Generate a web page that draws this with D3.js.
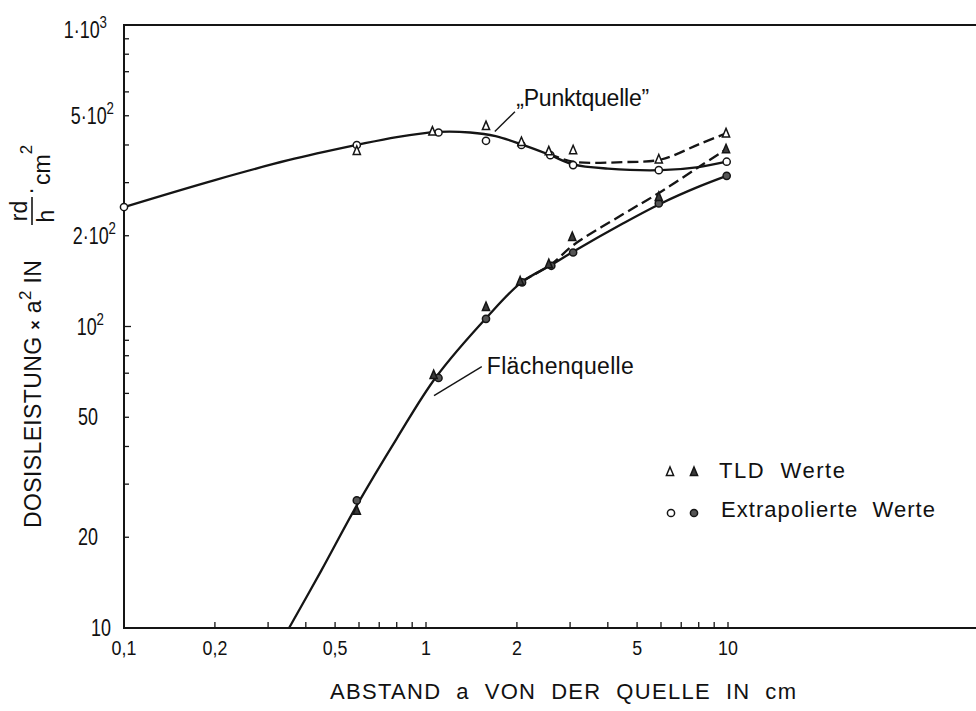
<!DOCTYPE html>
<html><head><meta charset="utf-8">
<script src="https://cdn.jsdelivr.net/npm/d3@7"></script>
<style>
body{margin:0;background:#fff}
svg{display:block}
text{font-family:"Liberation Sans",Arial,sans-serif;fill:#111}
</style>
</head><body>
<svg id="chart" width="976" height="711"></svg>
<script>
// ---------------- DATA ----------------
const xTickValues = [0.1, 0.2, 0.5, 1, 2, 5, 10];
const xTickLabels = ["0,1", "0,2", "0,5", "1", "2", "5", "10"];
const xMinorTicks = [0.2, 0.3, 0.4, 0.5, 0.6, 0.7, 0.8, 0.9, 1, 2, 3, 4, 5, 6, 7, 8, 9, 10];
const yTickValues = [10, 20, 50, 100, 200, 500, 1000];
const yTickLabels = ["10", "20", "50", "10^2", "2·10^2", "5·10^2", "1·10^3"];
const yMinorTicks = [20, 30, 40, 50, 60, 70, 80, 90, 100, 200, 300, 400, 500, 600, 700, 800, 900];

// "Punktquelle" measured points [a in cm, value]
const punktTLD   = [[0.59, 382], [1.05, 443], [1.58, 462], [2.07, 409], [2.55, 381], [3.07, 384], [5.9, 358], [9.85, 437]];
const punktExtra = [[0.1, 249], [0.59, 400], [1.1, 440], [1.58, 413], [2.07, 400], [2.58, 370], [3.07, 343], [5.9, 330], [9.9, 352]];
// "Flaechenquelle" measured points
const flaecheTLD   = [[0.59, 24.5], [1.06, 69], [1.58, 116], [2.05, 141], [2.55, 161], [3.05, 198], [5.9, 269], [9.85, 387]];
const flaecheExtra = [[0.59, 26.5], [1.1, 67.5], [1.58, 106], [2.08, 140], [2.6, 159], [3.07, 176], [5.9, 256], [9.9, 316]];

// fitted curves
const punktSolid  = [[0.1, 249], [0.2, 306], [0.35, 356], [0.59, 400], [0.8, 425], [1.1, 442], [1.4, 440], [1.7, 428], [2.07, 402], [2.55, 372], [3.07, 345], [4, 334], [6, 330], [8, 338], [9.9, 352]];
const punktDashed = [[2.55, 375], [3.07, 352], [4.5, 351], [6, 358], [8, 402], [9.85, 437]];
const flaecheSolid  = [[0.352, 10], [0.45, 15.5], [0.59, 25.5], [0.8, 42.5], [1.08, 68], [1.6, 108], [2.07, 140], [2.6, 160], [3.07, 177], [4.5, 220], [6, 256], [8, 291], [9.9, 316]];
const flaecheDashed = [[2.07, 141], [2.6, 161], [3.07, 186], [4.5, 236], [6, 280], [8, 338], [9.85, 387]];

const legendLabels = ["TLD  Werte", "Extrapolierte  Werte"];
const xTitle = "ABSTAND  a  VON  DER  QUELLE  IN  cm";

// ---------------- LAYOUT ----------------
const svg = d3.select("#chart");
const pLeft = 124, pRight = 976, pTop = 25, pBottom = 628;
const decadePx = 302;
const xMax = Math.pow(10, (pRight - pLeft) / decadePx - 1);
const x = d3.scaleLog().domain([0.1, xMax]).range([pLeft, pRight]);
const y = d3.scaleLog().domain([10, 1000]).range([pBottom, pTop]);
const ink = "#151515";

// axes lines
svg.append("line").attr("x1", pLeft).attr("x2", pRight).attr("y1", pTop).attr("y2", pTop)
  .attr("stroke", ink).attr("stroke-width", 2);
svg.append("line").attr("x1", pLeft).attr("x2", pRight).attr("y1", pBottom).attr("y2", pBottom)
  .attr("stroke", ink).attr("stroke-width", 2);
svg.append("line").attr("x1", pLeft).attr("x2", pLeft).attr("y1", pTop - 1).attr("y2", pBottom + 1)
  .attr("stroke", ink).attr("stroke-width", 2);

// ticks (inward)
svg.append("g").selectAll("line").data(xMinorTicks).join("line")
  .attr("x1", d => x(d)).attr("x2", d => x(d)).attr("y1", pBottom).attr("y2", pBottom - 6)
  .attr("stroke", ink).attr("stroke-width", 1.3);
svg.append("g").selectAll("line").data(yMinorTicks).join("line")
  .attr("y1", d => y(d)).attr("y2", d => y(d)).attr("x1", pLeft).attr("x2", d => pLeft + (d === 100 ? 7 : 5))
  .attr("stroke", ink).attr("stroke-width", 1.3);

function writeSup(sel, label, supSize, dy) {
  const parts = label.split("^");
  sel.append("tspan").text(parts[0]);
  if (parts[1]) sel.append("tspan").attr("dy", dy).attr("font-size", supSize).text(parts[1]);
}

// x tick labels
xTickValues.forEach((v, i) => {
  svg.append("g").attr("transform", `translate(${x(v)},${655}) scale(0.85,1)`)
    .append("text").attr("text-anchor", "middle").attr("font-size", 21).text(xTickLabels[i]);
});
// y tick labels
const yLabelRight = {10: 111, 20: 98, 50: 98, 100: 104, 200: 116, 500: 114, 1000: 107};
yTickValues.forEach((v, i) => {
  const g = svg.append("g").attr("transform", `translate(${yLabelRight[v]},${y(v) + (v === 1000 ? 13 : 8)}) scale(0.78,1)`);
  const t = g.append("text").attr("text-anchor", "end").attr("font-size", 23);
  writeSup(t, yTickLabels[i], 17, -10);
});

// curves
const line = d3.line().x(d => x(d[0])).y(d => y(d[1])).curve(d3.curveCatmullRom.alpha(0.5));
[[punktSolid, null], [punktDashed, "11,5"], [flaecheSolid, null], [flaecheDashed, "11,5"]].forEach(([data, dash]) => {
  svg.append("path").attr("d", line(data)).attr("fill", "none").attr("stroke", ink)
    .attr("stroke-width", 2.3).attr("stroke-dasharray", dash);
});

// markers
function tri(g, cx, cy, filled) {
  g.append("path").attr("d", `M${cx},${cy - 5}L${cx + 3.6},${cy + 3.5}L${cx - 3.6},${cy + 3.5}Z`)
    .attr("fill", filled ? "#3a3a3a" : "#fff").attr("stroke", ink).attr("stroke-width", 1.5);
}
function circ(g, cx, cy, filled) {
  g.append("circle").attr("cx", cx).attr("cy", cy).attr("r", 3.6)
    .attr("fill", filled ? "#555" : "#fff").attr("stroke", ink).attr("stroke-width", 1.5);
}
const mk = svg.append("g");
flaecheExtra.forEach(d => circ(mk, x(d[0]), y(d[1]), true));
flaecheTLD.forEach(d => tri(mk, x(d[0]), y(d[1]), true));
punktExtra.forEach(d => circ(mk, x(d[0]), y(d[1]), false));
punktTLD.forEach(d => tri(mk, x(d[0]), y(d[1]), false));

// annotations
svg.append("line").attr("x1", x(1.69)).attr("y1", y(443)).attr("x2", x(1.97)).attr("y2", y(516))
  .attr("stroke", ink).attr("stroke-width", 1.4);
svg.append("text").attr("x", x(1.99)).attr("y", y(539)).attr("font-size", 23)
  .attr("textLength", 133).attr("lengthAdjust", "spacing")
  .text("\u201EPunktquelle\u201D");
svg.append("line").attr("x1", x(1.53)).attr("y1", y(73.6)).attr("x2", x(1.063)).attr("y2", y(59))
  .attr("stroke", ink).attr("stroke-width", 1.4);
svg.append("text").attr("x", x(1.59)).attr("y", y(69.6)).attr("font-size", 23)
  .attr("textLength", 147).attr("lengthAdjust", "spacing")
  .text("Flächenquelle");

// legend
const lg = svg.append("g");
tri(lg, 670, 472, false); tri(lg, 694, 472, true);
circ(lg, 671, 513, false); circ(lg, 694, 513, true);
lg.append("text").attr("x", 719).attr("y", 478).attr("font-size", 22).style("white-space", "pre")
  .attr("textLength", 126).attr("lengthAdjust", "spacing").text(legendLabels[0]);
lg.append("text").attr("x", 721).attr("y", 517).attr("font-size", 22).style("white-space", "pre")
  .attr("textLength", 214).attr("lengthAdjust", "spacing").text(legendLabels[1]);

// x title
svg.append("text").attr("x", 330).attr("y", 699).attr("font-size", 22).style("white-space", "pre")
  .attr("textLength", 466).attr("lengthAdjust", "spacing").text(xTitle);

// y title (rotated)
const yt = svg.append("g").attr("transform", "translate(41,528) rotate(-90)");
const yt1 = yt.append("text").attr("x", 0).attr("y", 0).attr("font-size", 23)
  .attr("textLength", 268).attr("lengthAdjust", "spacing").style("white-space", "pre");
yt1.append("tspan").text("DOSISLEISTUNG ");
yt1.append("tspan").attr("font-size", 16).attr("font-weight", "bold").text("×");
yt1.append("tspan").text(" a");
yt1.append("tspan").attr("dy", -10).attr("font-size", 17).text("2");
yt1.append("tspan").attr("dy", 10).text(" IN");
// fraction rd/h
yt.append("text").attr("x", 317).attr("y", -14).attr("text-anchor", "middle").attr("font-size", 23).text("rd");
yt.append("line").attr("x1", 303).attr("x2", 331).attr("y1", -9).attr("y2", -9).attr("stroke", ink).attr("stroke-width", 1.6);
yt.append("text").attr("x", 312).attr("y", 13).attr("text-anchor", "middle").attr("font-size", 23).text("h");
yt.append("text").attr("x", 337).attr("y", -3).attr("text-anchor", "middle").attr("font-size", 23).text("·");
const cm = yt.append("text").attr("x", 343).attr("y", 9).attr("font-size", 23);
cm.append("tspan").text("cm");
cm.append("tspan").attr("dy", -18).attr("font-size", 17).text("2");
</script>
</body></html>
